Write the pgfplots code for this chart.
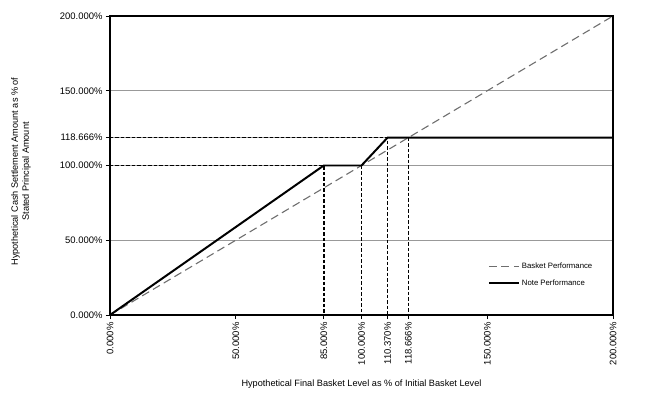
\documentclass[border=0pt]{standalone}
\usepackage{fontspec}
\setmainfont{Liberation Sans}
\usepackage{pgfplots}
\pgfplotsset{compat=1.18}
\definecolor{basketgray}{RGB}{110,110,110}
\begin{document}
\begin{tikzpicture}
\begin{axis}[
  scale only axis, width=503bp, height=299bp,
  xmin=0, xmax=200, ymin=0, ymax=200,
  axis line style={line width=2.6pt},
  xtick={0,50,85,100,110.37,118.666,150,200},
  xticklabels={0.000\%,50.000\%,85.000\%,100.000\%,110.370\%,118.666\%,150.000\%,200.000\%},
  ytick={0,50,100,118.666,150,200},
  yticklabels={0.000\%,50.000\%,100.000\%,118.666\%,150.000\%,200.000\%},
  xtick pos=bottom, ytick pos=left,
  tick align=outside, major tick length=4bp,
  tick style={black, line width=1pt},
  x tick label style={rotate=90, anchor=east, font=\fontsize{9.5}{11}\selectfont},
  y tick label style={font=\fontsize{9.5}{11}\selectfont},
  ymajorgrids, grid style={gray!80, line width=0.8pt},
  xlabel={Hypothetical Final Basket Level as \% of Initial Basket Level},
  xlabel style={at={(axis description cs:0.5,-0.231)}, anchor=center, font=\fontsize{9.2}{11}\selectfont},
  ylabel={Hypothetical Cash Settlement Amount as \% of\\Stated Principal Amount},
  ylabel style={at={(axis description cs:-0.177,0.48)}, anchor=center, align=center, font=\fontsize{9.2}{11}\selectfont},
  legend style={draw=none, fill=none, at={(rel axis cs:0.745,0.187)}, anchor=north west,
    font=\fontsize{7.8}{9}\selectfont, row sep=5bp},
  legend cell align=left,
  legend image code/.code={\draw[#1] (0bp,0bp) -- (30bp,0bp);},
]
% reference levels
\addplot[forget plot, black, line width=1.7pt, dash pattern=on 3.5bp off 2bp] coordinates {(0,100) (85,100) (85,0)};
\addplot[forget plot, black, line width=1.7pt, dash pattern=on 3.5bp off 2bp] coordinates {(100,100) (100,0)};
\addplot[forget plot, black, line width=1.7pt, dash pattern=on 3.5bp off 2bp] coordinates {(0,118.666) (110.37,118.666) (110.37,0)};
\addplot[forget plot, black, line width=1.7pt, dash pattern=on 3.5bp off 2bp] coordinates {(118.666,118.666) (118.666,0)};
% basket performance
\addplot[basketgray, line width=1.1pt, dash pattern=on 8bp off 4.5bp] coordinates {(0,0) (200,200)};
\addlegendentry{Basket Performance}
% note performance
\addplot[black, line width=2pt] coordinates {(0,0) (85,100) (100,100) (110.37,118.666) (200,118.666)};
\addlegendentry{Note Performance}
\end{axis}
\path ([shift={(-110bp,-88bp)}]current axis.south west) rectangle ([shift={(535bp,315bp)}]current axis.south west);
\end{tikzpicture}
\end{document}
